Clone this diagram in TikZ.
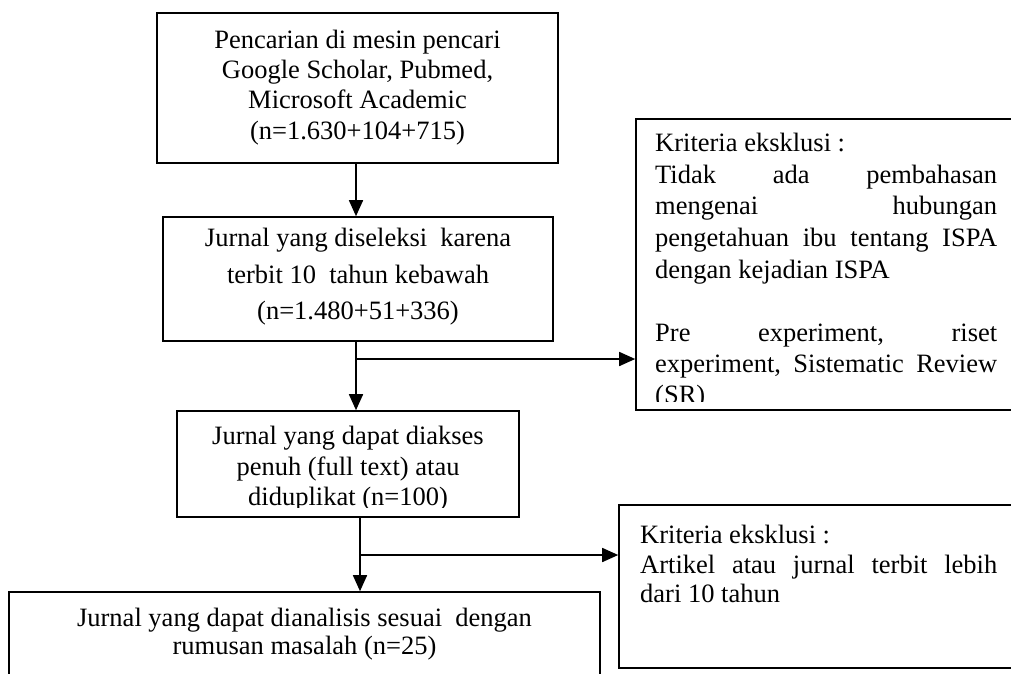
\documentclass[tikz,border=0pt]{standalone}
\usepackage{fontspec}
\setmainfont{Liberation Serif}
\usetikzlibrary{arrows.meta}
\begin{document}
\begin{tikzpicture}[x=1pt,y=-1pt,
  box/.style={draw, line width=1.6pt, rectangle, inner sep=0pt},
  lbl/.style={inner sep=0pt, yshift=-4.5pt, font=\fontsize{26.5}{30}\selectfont},
  arr/.style={line width=1.6pt, -{Triangle[length=16pt,width=14pt]}}]
\useasboundingbox (0,0) rectangle (1011,673);
\fill[white] (0,0) rectangle (1011,673);

% boxes
\node[box, minimum width=401pt, minimum height=150pt] (b1) at (357.5,88) {};
\node[box, minimum width=390pt, minimum height=124pt] (b2) at (358,279) {};
\node[box, minimum width=342pt, minimum height=106pt] (b3) at (348,464) {};
\node[box, minimum width=591pt, minimum height=108pt] (b4) at (304.5,646) {};
\node[box, minimum width=384pt, minimum height=291pt] (rb1) at (828,264.5) {};
\node[box, minimum width=401pt, minimum height=163pt] (rb2) at (819.5,586.5) {};

% connectors
\coordinate (a1) at (356,0);
\coordinate (a2) at (360,0);
\coordinate (j1) at (356,359);
\coordinate (j2) at (360,555);
\draw[arr] (b1.south -| a1) -- (b2.north -| a1);
\draw[arr] (b2.south -| a1) -- (b3.north -| a1);
\draw[arr] (b3.south -| a2) -- (b4.north -| a2);
\draw[arr] (j1) -- (rb1.west |- j1);
\draw[arr] (j2) -- (rb2.west |- j2);

% texts box 1
\node[lbl, anchor=mid] (t1a) at (357.5,42) {Pencarian di mesin pencari};
\node[lbl, anchor=mid] (t1b) at (357.5,72) {Google Scholar, Pubmed,};
\node[lbl, anchor=mid] (t1c) at (357.5,102) {Microsoft Academic};
\node[lbl, anchor=mid] (t1d) at (357.5,133) {(n=1.630+104+715)};

% box 2
\node[lbl, anchor=mid] (t2a) at (358,240) {Jurnal yang diseleksi\ \ karena};
\node[lbl, anchor=mid] (t2b) at (358,277) {terbit 10\ \ tahun kebawah};
\node[lbl, anchor=mid] (t2c) at (358,313) {(n=1.480+51+336)};

% box 3
\begin{scope}
\clip (177,411) rectangle (519,507);
\node[lbl, anchor=mid] (t3a) at (348,438) {Jurnal yang dapat diakses};
\node[lbl, anchor=mid] (t3b) at (348,469) {penuh (full text) atau};
\node[lbl, anchor=mid] (t3c) at (348,499) {diduplikat (n=100)};
\end{scope}

% box 4
\node[lbl, anchor=mid] (t4a) at (304.5,620) {Jurnal yang dapat dianalisis sesuai\ \ dengan};
\node[lbl, anchor=mid] (t4b) at (304.5,648) {rumusan masalah (n=25)};

% right box 1
\begin{scope}
\clip (636,119) rectangle (1011,401);
\node[lbl, anchor=mid west] (r1a) at (655,145) {Kriteria eksklusi :};
\node[lbl, anchor=mid west] (r1b) at (655,177) {\hbox to 342pt{Tidak\hfill ada\hfill pembahasan}};
\node[lbl, anchor=mid west] (r1c) at (655,208) {\hbox to 342pt{mengenai\hfill hubungan}};
\node[lbl, anchor=mid west] (r1d) at (655,240) {\hbox to 342pt{pengetahuan\hfill ibu\hfill tentang\hfill ISPA}};
\node[lbl, anchor=mid west] (r1e) at (655,272) {dengan kejadian ISPA};
\node[lbl, anchor=mid west] (r1f) at (655,335) {\hbox to 342pt{Pre\hfill experiment,\hfill riset}};
\node[lbl, anchor=mid west] (r1g) at (655,366) {\hbox to 342pt{experiment,\hfill Sistematic\hfill Review}};
\node[lbl, anchor=mid west] (r1h) at (655,397) {(SR)};
\end{scope}

% right box 2
\node[lbl, anchor=mid west] (r2a) at (640,537) {Kriteria eksklusi :};
\node[lbl, anchor=mid west] (r2b) at (640,566.5) {\hbox to 357pt{Artikel\hfill atau\hfill jurnal\hfill terbit\hfill lebih}};
\node[lbl, anchor=mid west] (r2c) at (640,596) {dari 10 tahun};
\end{tikzpicture}
\end{document}
